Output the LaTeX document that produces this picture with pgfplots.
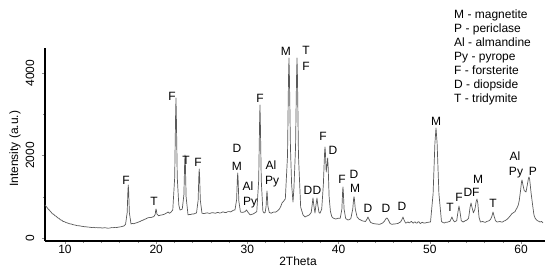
\documentclass[border=0pt]{standalone}
\usepackage{pgfplots}
\pgfplotsset{compat=1.18}
\usepackage{fontspec}
\setmainfont{Liberation Sans}
\pgfplotstableread{
x y
7.81 800
7.95 760
8.05 735
8.2 690
8.3 675
8.4 640
8.5 625
8.6 590
8.75 575
8.9 540
9.05 525
9.2 490
9.35 475
9.5 440
9.65 430
9.8 400
9.95 395
10.1 375
10.3 362
10.5 345
10.7 338
10.9 320
11.1 316
11.3 300
11.5 298
11.7 290
11.9 282
12.1 275
12.3 272
12.5 265
12.7 262
12.9 255
13.1 258
13.3 250
13.5 252
13.7 245
13.9 250
14.1 240
14.3 248
14.5 245
14.7 238
14.9 240
15.1 252
15.3 250
15.5 258
15.7 255
15.9 265
16.1 270
16.3 282
16.45 290
16.64 330
16.82 615
16.90 1140
16.94 1285
16.98 1140
17.06 615
17.24 340
17.4 355
17.55 345
17.7 360
17.9 372
18.1 390
18.25 402
18.4 420
18.55 432
18.7 450
18.85 462
19.0 480
19.15 492
19.3 500
19.45 498
19.6 510
19.75 518
19.90 580
19.95 675
19.98 703
20.02 675
20.08 580
20.25 540
20.4 548
20.5 555
20.65 560
20.8 570
20.9 575
21.0 590
21.1 600
21.2 615
21.3 630
21.45 600
21.6 620
21.82 680
22.03 1470
22.13 2980
22.17 3394
22.21 2980
22.31 1470
22.48 800
22.61 679
22.86 700
23.04 1050
23.12 1800
23.16 2012
23.20 1800
23.28 1000
23.49 560
23.65 572
23.8 570
23.95 585
24.1 580
24.3 600
24.42 605
24.60 915
24.68 1510
24.72 1673
24.76 1510
24.84 915
25.02 600
25.15 595
25.3 590
25.45 605
25.6 610
25.75 600
25.9 595
26.05 610
26.2 615
26.35 605
26.5 600
26.65 615
26.8 620
26.95 605
27.1 610
27.25 628
27.4 630
27.55 615
27.7 620
27.85 638
28.0 640
28.15 632
28.3 650
28.45 672
28.64 680
28.82 930
28.90 1440
28.94 1576
28.98 1440
29.06 900
29.24 630
29.45 620
29.6 628
29.75 640
29.9 680
30.05 630
30.3 560
30.45 572
30.6 580
30.75 598
30.9 620
31.03 640
31.24 1400
31.34 2830
31.38 3224
31.42 2830
31.52 1400
31.70 650
31.82 606
31.95 620
32.05 770
32.12 1060
32.15 1140
32.18 1060
32.25 770
32.40 620
32.6 600
32.75 618
32.9 630
33.05 625
33.2 640
33.35 668
33.5 700
33.65 760
33.8 850
34.0 900
34.16 950
34.40 2000
34.51 3900
34.56 4363
34.61 3900
34.72 2200
34.85 1300
35.0 873
35.1 1200
35.28 2200
35.39 3900
35.44 4363
35.49 3900
35.60 2000
35.84 750
36.1 560
36.32 509
36.45 525
36.6 540
36.75 555
36.86 580
37.0 620
37.1 800
37.19 970
37.28 800
37.41 606
37.52 800
37.63 970
37.72 800
37.85 620
37.96 600
38.15 700
38.33 1300
38.46 2050
38.51 2206
38.56 2050
38.64 1600
38.72 1750
38.80 1939
38.86 1700
38.96 1000
39.1 650
39.25 520
39.39 485
39.55 470
39.7 460
39.85 472
39.95 480
40.18 480
40.36 700
40.44 1120
40.48 1236
40.52 1120
40.60 700
40.78 470
41.03 436
41.2 450
41.34 470
41.55 700
41.65 950
41.69 1000
41.73 950
41.83 700
42.04 500
42.13 485
42.25 455
42.4 440
42.55 420
42.7 410
42.95 400
43.12 460
43.22 509
43.32 460
43.5 380
43.65 362
43.8 350
43.95 345
44.1 340
44.3 336
44.5 330
44.65 345
44.8 360
45.0 400
45.2 470
45.31 485
45.45 440
45.65 350
45.8 335
45.9 330
46.05 342
46.2 340
46.35 348
46.5 350
46.65 372
46.8 390
46.95 450
47.06 509
47.17 440
47.35 360
47.5 375
47.6 390
47.7 372
47.8 370
47.9 392
48.0 400
48.1 372
48.2 360
48.3 385
48.4 390
48.5 362
48.6 360
48.7 388
48.8 395
48.9 362
49.0 350
49.1 372
49.2 380
49.35 360
49.5 364
49.65 375
49.8 380
50.08 390
50.36 1070
50.56 2300
50.68 2666
50.80 2300
51.00 1070
51.28 400
51.45 372
51.6 364
51.75 385
51.9 380
52.05 395
52.2 400
52.33 460
52.43 510
52.53 450
52.7 390
52.95 420
53.1 650
53.2 776
53.3 650
53.45 420
53.64 388
53.8 405
53.9 420
54.05 432
54.25 480
54.42 750
54.52 848
54.62 750
54.78 610
54.95 700
55.08 880
55.17 945
55.26 850
55.4 500
55.55 388
55.7 395
55.8 400
55.95 385
56.1 380
56.25 402
56.4 410
56.55 425
56.65 450
56.8 520
56.93 630
57.06 520
57.2 420
57.37 388
57.55 395
57.7 400
57.85 385
58.0 390
58.1 408
58.25 420
58.45 450
58.6 480
58.75 520
58.9 560
59.0 590
59.12 606
59.25 625
59.35 640
59.45 690
59.56 727
59.7 800
59.8 900
59.95 1150
60.05 1350
60.11 1406
60.2 1300
60.35 1150
60.55 1115
60.7 1300
60.82 1450
60.88 1479
60.95 1420
61.1 1100
61.3 750
61.42 560
61.54 485
61.65 450
61.8 420
61.95 405
62.08 388
62.25 400
62.41 364
}\xrd
\begin{document}
\begin{tikzpicture}[font=\fontsize{12}{14}\selectfont]
\begin{axis}[
  scale only axis,
  width=500pt, height=193pt,
  xmin=7.81, xmax=62.63,
  ymin=-73, ymax=4606,
  axis x line*=bottom, axis y line*=left,
  axis line style={line width=1.4pt, black},
  xtick={10,20,30,40,50,60},
  minor x tick num=4,
  ytick={0,2000,4000},
  minor ytick={1000,3000},
  tick align=outside,
  major tick length=3pt, minor tick length=2pt,
  tick style={black!45, line width=0.4pt},
  /pgf/number format/assume math mode=true,
  /pgf/number format/set thousands separator={},
  xticklabel style={anchor=north, inner sep=0pt, text height=1.38ex, text depth=0pt, font=\fontsize{12}{14}\selectfont},
  xticklabel shift=1.7pt,
  yticklabel style={rotate=90, anchor=south, inner sep=0pt, text height=1.38ex, text depth=0pt, font=\fontsize{12}{14}\selectfont},
  yticklabel shift=7.7pt,
  xlabel={2Theta},
  ylabel={Intensity (a.u.)},
  xlabel style={at={(axis description cs:0.506,-0.109)}, anchor=center, inner sep=0pt, text height=1.38ex, text depth=0pt, font=\fontsize{12}{14}\selectfont},
  ylabel style={at={(axis description cs:-0.06,0.477)}, anchor=center, inner sep=0pt, font=\fontsize{12}{14}\selectfont},
  clip=false,
  every node/.append style={font=\fontsize{12}{14}\selectfont},
]
\addplot[black!65, line width=0.7pt, line join=round] table[x=x,y=y] {\xrd};
\begin{scope}[every node/.style={inner sep=0pt, text height=1.38ex, text depth=0pt, anchor=center, font=\fontsize{12}{14}\selectfont}]
\node at (axis cs:16.69,1382) {F};
\node at (axis cs:19.76,873) {T};
\node at (axis cs:21.73,3418) {F};
\node at (axis cs:23.27,1866) {T};
\node at (axis cs:24.58,1818) {F};
\node at (axis cs:28.86,2157) {D};
\node at (axis cs:28.86,1721) {M};
\node at (axis cs:30.07,1236) {Al};
\node at (axis cs:30.29,873) {Py};
\node at (axis cs:31.38,3369) {F};
\node at (axis cs:32.59,1745) {Al};
\node at (axis cs:32.70,1382) {Py};
\node at (axis cs:34.23,4509) {M};
\node at (axis cs:36.43,4533) {T};
\node at (axis cs:36.43,4145) {F};
\node at (axis cs:38.29,2448) {F};
\node at (axis cs:39.39,2109) {D};
\node at (axis cs:36.65,1139) {D};
\node at (axis cs:37.63,1139) {D};
\node at (axis cs:40.37,1406) {F};
\node at (axis cs:41.69,1527) {D};
\node at (axis cs:41.80,1188) {M};
\node at (axis cs:43.22,703) {D};
\node at (axis cs:45.20,703) {D};
\node at (axis cs:46.95,751) {D};
\node at (axis cs:50.68,2812) {M};
\node at (axis cs:52.21,727) {T};
\node at (axis cs:53.20,970) {F};
\node at (axis cs:54.19,1091) {D};
\node at (axis cs:55.05,1091) {F};
\node at (axis cs:55.29,1406) {M};
\node at (axis cs:56.93,824) {T};
\node at (axis cs:59.34,1963) {Al};
\node at (axis cs:59.45,1600) {Py};
\node at (axis cs:61.31,1600) {P};
\end{scope}
\end{axis}
\begin{scope}[every node/.style={anchor=base west, inner sep=0pt, font=\fontsize{12}{14}\selectfont}]
\node at (409pt,222pt) {M - magnetite};
\node at (409pt,208.17pt) {P - periclase};
\node at (409pt,194.33pt) {Al - almandine};
\node at (409pt,180.5pt) {Py - pyrope};
\node at (409pt,166.67pt) {F - forsterite};
\node at (409pt,152.83pt) {D - diopside};
\node at (409pt,139pt) {T - tridymite};
\end{scope}
\pgfresetboundingbox
\path (-45pt,-30pt) rectangle (505pt,241pt);
\end{tikzpicture}
\end{document}
